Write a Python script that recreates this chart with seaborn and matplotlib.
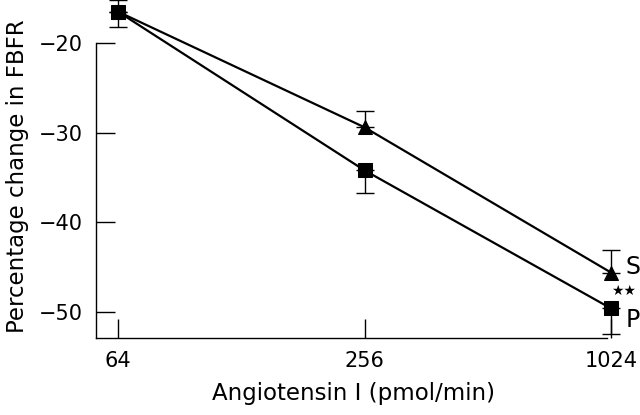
import numpy as np
import pandas as pd
import matplotlib
matplotlib.use("Agg")
import matplotlib.pyplot as plt
import seaborn as sns

doses = [64, 256, 1024]
s_mean = [-16.5, -29.4, -45.6]
s_err_up = [1.3, 1.8, 2.5]
p_mean = [-16.5, -34.2, -49.6]
p_err_down = [1.7, 2.5, 2.8]
series = ["S", "P"]
y_ticks = [-20, -30, -40, -50]
x_ticks = [64, 256, 1024]

sns.set_theme(style="ticks")
plt.rcParams["font.family"] = ["DejaVu Sans"]
plt.rcParams["text.color"] = "black"
plt.rcParams["axes.labelcolor"] = "black"

df = pd.DataFrame({
    "dose": doses * 2,
    "value": s_mean + p_mean,
    "group": ["S"] * 3 + ["P"] * 3,
})

fig = plt.figure(figsize=(6.4, 4.15), dpi=100)
ax = fig.add_axes([96 / 640, 1 - 338 / 415, (611 - 96) / 640, 338 / 415])

sns.lineplot(data=df, x="dose", y="value", hue="group", style="group",
             markers={"S": "^", "P": "s"}, dashes=False,
             palette={"S": "black", "P": "black"}, linewidth=1.6,
             markersize=10, markeredgecolor="black", legend=False, ax=ax,
             clip_on=False, zorder=3)

ax.errorbar(doses, s_mean, yerr=[np.zeros(3), s_err_up], fmt="none",
            ecolor="black", elinewidth=1.0, capsize=6.5, capthick=1.0, clip_on=False)
ax.errorbar(doses, p_mean, yerr=[p_err_down, np.zeros(3)], fmt="none",
            ecolor="black", elinewidth=1.0, capsize=6.5, capthick=1.0, clip_on=False)

ax.set_xscale("log", base=2)
lo = 2 ** (6 - 22 / 123.25)
ax.set_xlim(lo, 1024)
ax.set_ylim(-52.9, -15.2)
ax.set_xticks(x_ticks)
ax.set_xticklabels([str(v) for v in x_ticks])
ax.xaxis.set_minor_locator(matplotlib.ticker.NullLocator())
ax.set_yticks(y_ticks)
ax.set_yticklabels(["\u221220", "\u221230", "\u221240", "\u221250"])

ax.spines["top"].set_visible(False)
ax.spines["right"].set_visible(False)
ax.spines["left"].set_bounds(-52.9, -20)
ax.spines["bottom"].set_bounds(lo, 1000)
for sp in ("left", "bottom"):
    ax.spines[sp].set_linewidth(1.0)
    ax.spines[sp].set_color("black")

ax.tick_params(axis="both", direction="in", length=14, width=1.0,
               labelsize=15, colors="black")
ax.tick_params(axis="y", pad=9.5)
ax.tick_params(axis="x", pad=9)

ax.set_xlabel("Angiotensin I (pmol/min)", fontsize=16.5, labelpad=8, color="black")
ax.set_ylabel("Percentage change in FBFR", fontsize=16.5, labelpad=7, color="black")
ax.yaxis.set_label_coords(-0.13, 0.48)

ax.annotate("S", xy=(1024, -44.97), xytext=(10.5, 0), textcoords="offset points",
            fontsize=17, va="center", ha="left", annotation_clip=False, color="black")
ax.annotate("P", xy=(1024, -50.9), xytext=(10.5, 0), textcoords="offset points",
            fontsize=17, va="center", ha="left", annotation_clip=False, color="black")
ax.annotate("\u2605\u2605", xy=(1024, -47.66), xytext=(9.4, 0), textcoords="offset points",
            fontsize=10, va="center", ha="center", annotation_clip=False, color="black")

fig.savefig("out.png", dpi=100)
